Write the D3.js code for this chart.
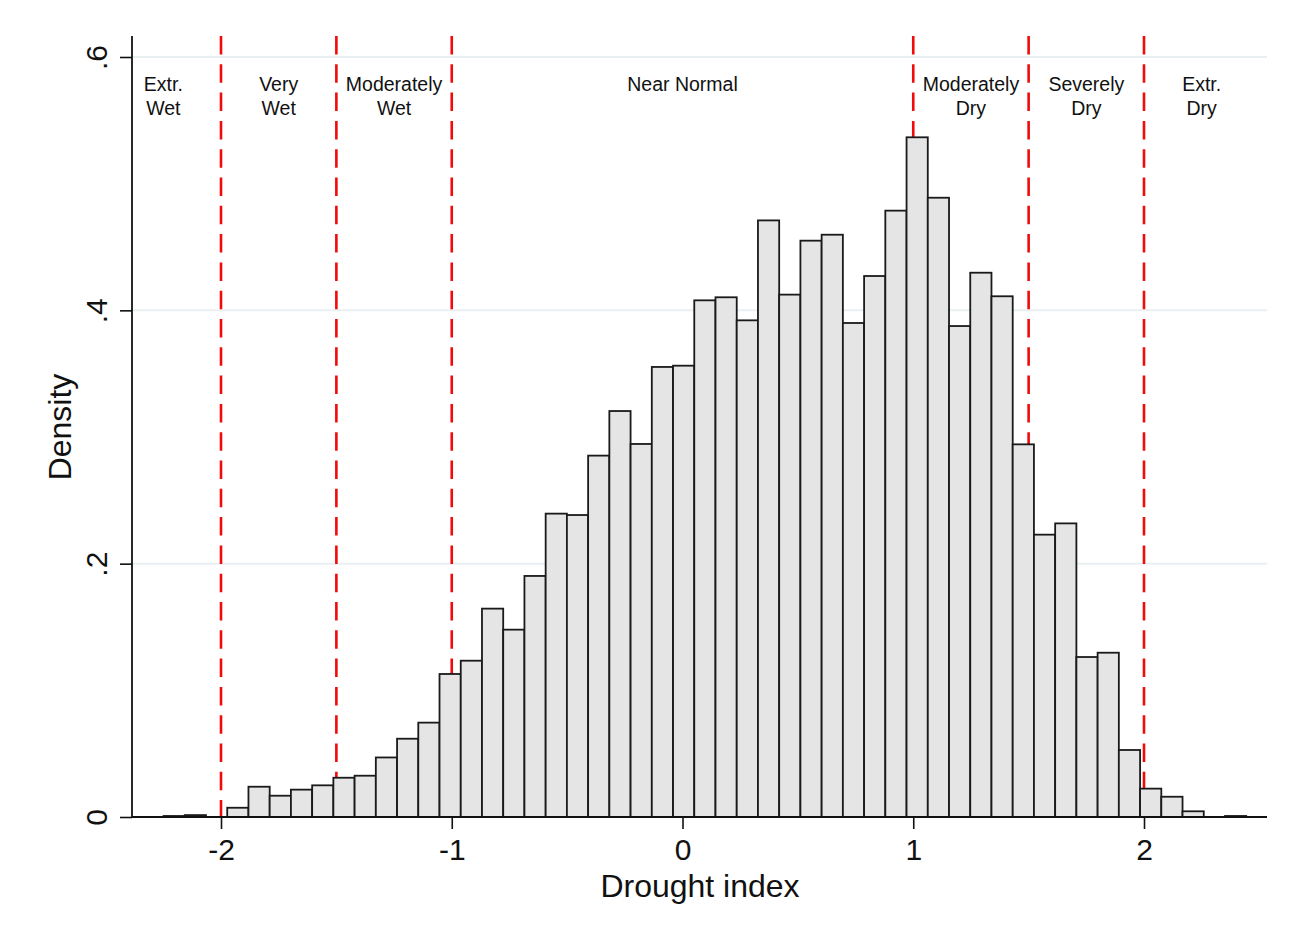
<!DOCTYPE html>
<html>
<head>
<meta charset="utf-8">
<script src="https://cdn.jsdelivr.net/npm/d3@7"></script>
<style>
  html, body { margin: 0; padding: 0; background: #fff; }
  svg { display: block; font-family: "Liberation Sans", Arial, Helvetica, sans-serif; }
</style>
</head>
<body>
<svg id="chart" width="1297" height="942"></svg>
<script>
// ---- data ----
const binStart = -2.249;
const binWidth = 0.092;
const densities = [
  0.0008, 0.0015, 0.0000, 0.0073, 0.0239, 0.0168, 0.0216, 0.0250, 0.0310, 0.0326,
  0.0470, 0.0618, 0.0745, 0.1129, 0.1234, 0.1645, 0.1479, 0.1903, 0.2395, 0.2384,
  0.2853, 0.3205, 0.2945, 0.3553, 0.3563, 0.4079, 0.4103, 0.3921, 0.4710, 0.4124,
  0.4550, 0.4597, 0.3900, 0.4271, 0.4787, 0.5366, 0.4889, 0.3876, 0.4297, 0.4111,
  0.2942, 0.2229, 0.2318, 0.1263, 0.1297, 0.0529, 0.0224, 0.0160, 0.0045, 0.0000,
  0.0008
];
const cutoffs = [-2, -1.5, -1, 1, 1.5, 2];
const regionLabels = [
  { x: -2.25, lines: ["Extr.", "Wet"] },
  { x: -1.75, lines: ["Very", "Wet"] },
  { x: -1.25, lines: ["Moderately", "Wet"] },
  { x: 0,     lines: ["Near Normal"] },
  { x: 1.25,  lines: ["Moderately", "Dry"] },
  { x: 1.75,  lines: ["Severely", "Dry"] },
  { x: 2.25,  lines: ["Extr.", "Dry"] }
];
const xTicks = [-2, -1, 0, 1, 2];
const yTicks = [0, 0.2, 0.4, 0.6];
const yTickLabels = ["0", ".2", ".4", ".6"];
const xTitle = "Drought index";
const yTitle = "Density";

// ---- layout ----
const svg = d3.select("#chart");
const plotLeft = 132, plotRight = 1267, plotTop = 36, plotBottom = 817;

const x = d3.scaleLinear().domain([-2, 2]).range([221, 1144]);
const y = d3.scaleLinear().domain([0, 0.6]).range([817, 57]);

const bins = densities.map((d, i) => ({
  x0: binStart + i * binWidth,
  x1: binStart + (i + 1) * binWidth,
  d: d
}));

// gridlines
svg.append("g").selectAll("line").data(yTicks.filter(t => t > 0)).join("line")
  .attr("x1", plotLeft).attr("x2", plotRight)
  .attr("y1", d => y(d)).attr("y2", d => y(d))
  .attr("stroke", "#e8f0f2").attr("stroke-width", 2);

// red dashed cutoffs (behind bars)
svg.append("g").selectAll("line").data(cutoffs).join("line")
  .attr("x1", d => x(d)).attr("x2", d => x(d))
  .attr("y1", plotTop).attr("y2", plotBottom)
  .attr("stroke", "#f00a0a").attr("stroke-width", 2.6)
  .attr("stroke-dasharray", "18.5,9.8");

// bars
svg.append("g").selectAll("rect").data(bins).join("rect")
  .attr("x", d => x(d.x0))
  .attr("width", d => x(d.x1) - x(d.x0))
  .attr("y", d => y(d.d))
  .attr("height", d => y(0) - y(d.d))
  .attr("fill", "#e5e5e5")
  .attr("stroke", "#1a1a1a")
  .attr("stroke-width", 1.8);

// region labels
const rl = svg.append("g").attr("font-size", 19.5).attr("fill", "#111").attr("text-anchor", "middle");
regionLabels.forEach(r => {
  const t = rl.append("text").attr("x", x(r.x)).attr("y", 91);
  r.lines.forEach((ln, i) => {
    t.append("tspan").attr("x", x(r.x)).attr("dy", i === 0 ? 0 : 24).text(ln);
  });
});

// axes
const xAxis = d3.axisBottom(x).tickValues(xTicks).tickSize(12).tickPadding(10)
  .tickFormat(d => String(d).replace("\u2212", "-"));
const gx = svg.append("g").attr("transform", `translate(0,${plotBottom})`).call(xAxis);
gx.select(".domain").remove();
gx.append("line").attr("x1", plotLeft).attr("x2", plotRight).attr("y1", 0).attr("y2", 0)
  .attr("stroke", "#111").attr("stroke-width", 1.8);
gx.selectAll(".tick line").attr("stroke", "#111").attr("stroke-width", 1.6);
gx.selectAll(".tick text").attr("font-size", 30).attr("fill", "#111")
  .attr("font-family", "Liberation Sans, Arial, sans-serif");

const yAxis = d3.axisLeft(y).tickValues(yTicks).tickSize(12)
  .tickFormat((d, i) => yTickLabels[i]);
const gy = svg.append("g").attr("transform", `translate(${plotLeft},0)`).call(yAxis);
gy.select(".domain").remove();
gy.append("line").attr("x1", 0).attr("x2", 0).attr("y1", plotTop).attr("y2", plotBottom)
  .attr("stroke", "#111").attr("stroke-width", 1.8);
gy.selectAll(".tick line").attr("stroke", "#111").attr("stroke-width", 1.6);
gy.selectAll(".tick text")
  .attr("font-size", 30).attr("fill", "#111")
  .attr("font-family", "Liberation Sans, Arial, sans-serif")
  .attr("x", null).attr("dy", null)
  .attr("text-anchor", "middle")
  .attr("transform", "translate(-25,0) rotate(-90)");

// titles
svg.append("text").attr("x", 700).attr("y", 897).attr("text-anchor", "middle")
  .attr("font-size", 32).attr("fill", "#111").text(xTitle);
svg.append("text").attr("transform", "translate(71,427) rotate(-90)")
  .attr("text-anchor", "middle").attr("font-size", 32).attr("fill", "#111").text(yTitle);
</script>
</body>
</html>
